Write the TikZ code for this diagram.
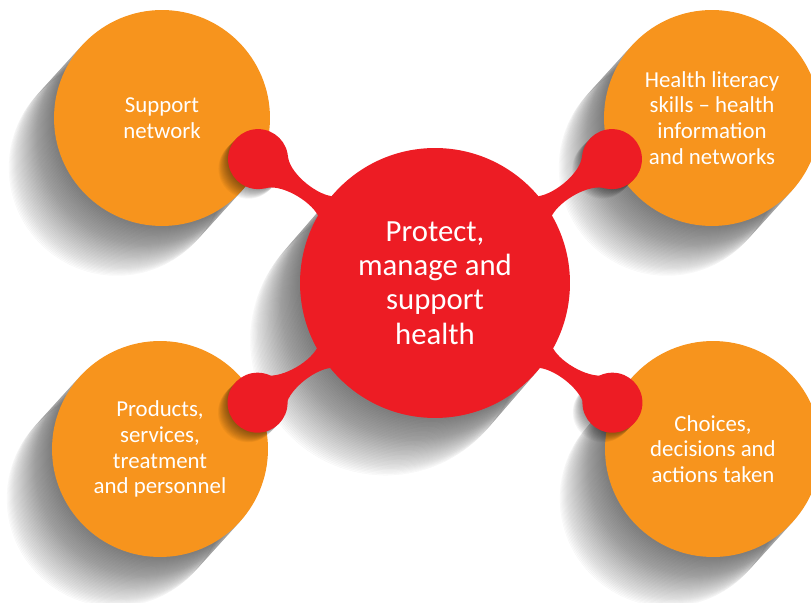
\documentclass[tikz,border=0pt]{standalone}
\usepackage{fontspec}
\setmainfont{Carlito}
\usetikzlibrary{calc}
\definecolor{hlorange}{HTML}{F7941D}
\definecolor{hlred}{HTML}{ED1C24}

\begin{document}
\begin{tikzpicture}[x=0.02cm, y=0.02cm,
  topic/.style={circle, fill=hlorange, minimum size=4.32cm, inner sep=0pt,
    align=center, text=white, font=\fontsize{13}{14.7}\selectfont},
  hubnode/.style={circle, fill=hlred, minimum size=5.4cm, inner sep=0pt,
    align=center, text=white, font=\fontsize{17.5}{19.5}\selectfont},
  knob/.style={circle, fill=hlred, minimum size=1.2cm, inner sep=0pt},
  shadowfill/.style={fill=black, fill opacity=0.015, draw=black, draw opacity=0.03, line width=0.15pt},
  knobshadow/.style={black, fill opacity=0.04}]
  \useasboundingbox (0,0) rectangle (811,602);
  \clip (0,0) rectangle (811,602);
  % centres of the five discs
  \coordinate (hubc) at (435,319);
  \coordinate (snc) at (162,484);
  \coordinate (hlc) at (712,484);
  \coordinate (psc) at (160,153);
  \coordinate (cdc) at (713,153);
  % knobs at the ends of the four arms
  \coordinate (k1) at ($(hubc)+(145:216)$);
  \coordinate (k2) at ($(hubc)+(35:216)$);
  \coordinate (k3) at ($(hubc)+(214:214)$);
  \coordinate (k4) at ($(hubc)+(-34:214)$);
  % streaked shadows, falling to the lower left
  \foreach \c/\r/\dx/\dy in {snc/108/1/1.1, hlc/108/1/1.1, psc/108/1/1.1,
      cdc/108/1/1.1, hubc/135/1.1/1.27} {
    \foreach \i in {1,...,45} {
      \path[shadowfill] ($(\c)+(-\dx*\i,-\dy*\i)$) circle (\r);
    }
  }
  % orange topic discs
  \node[topic] (support) at (snc) {Support\\network};
  \node[topic] (literacy) at (hlc) {Health literacy\\skills -- health\\information\\and networks};
  \node[topic] (products) at (psc) {Products,\\services,\\treatment\\and personnel};
  \node[topic] (choices) at (cdc) {Choices,\\decisions and\\actions taken};
  % small shadows of the knobs
  \foreach \k in {k1,k2,k3,k4} {
    \foreach \i in {1,...,12} {
      \fill[knobshadow] ($(\k)+(-0.8*\i,-0.8*\i)$) circle (30);
    }
  }
  % arms from the hub to the knobs
  \foreach \a in {145,35,214,-34} {
    \begin{scope}[shift={(hubc)}, rotate=\a]
      \fill[hlred] (120,0) -- (134.5,11.8) .. controls (150,4) and (183.7,7) .. (193.7,20.1)
        -- (215,0) -- (193.7,-20.1) .. controls (183.7,-7) and (150,-4) .. (134.5,-11.8) -- cycle;
    \end{scope}
  }
  \foreach \k/\n in {k1/knobsn, k2/knobhl, k3/knobps, k4/knobcd} {
    \node[knob] (\n) at (\k) {};
  }
  % red hub
  \node[hubnode] (hub) at (hubc) {Protect,\\manage and\\support\\health};
\end{tikzpicture}
\end{document}
